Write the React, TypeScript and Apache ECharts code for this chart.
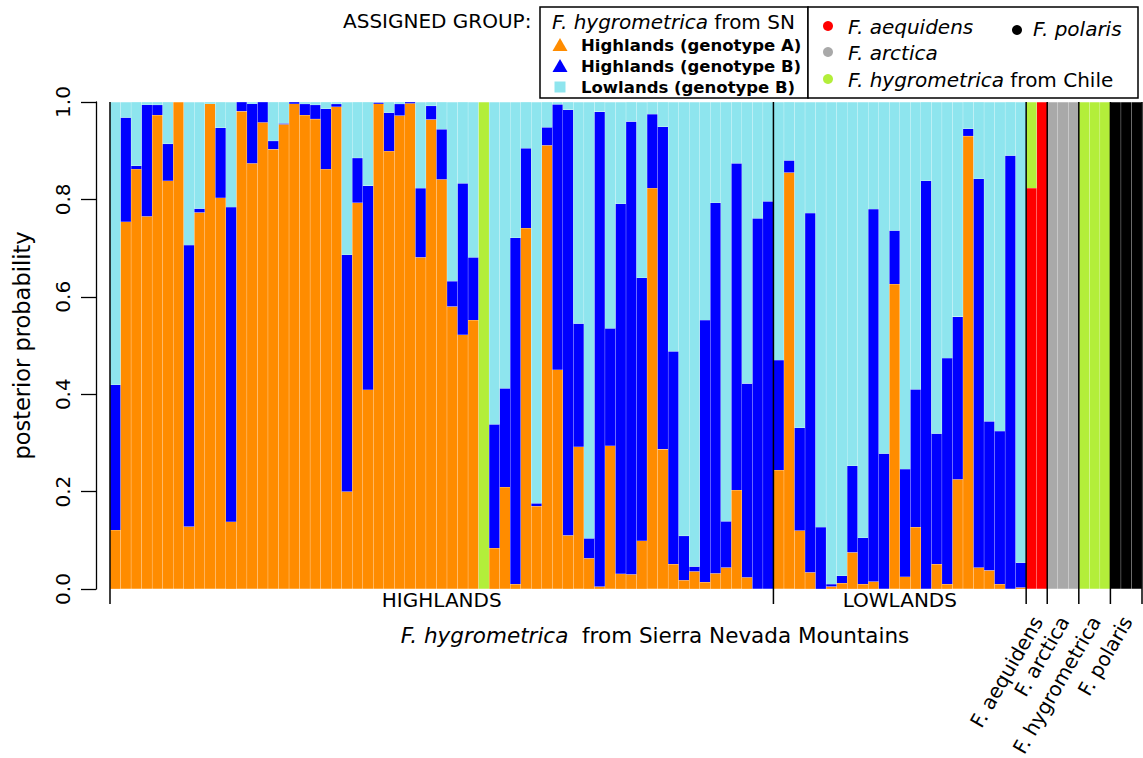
import React, { useEffect, useRef } from "react";
import * as echarts from "echarts";

const FONT = '"DejaVu Sans", "Noto Sans", sans-serif';

// Sierra Nevada (SN) individuals, membership per cluster.
// Highland individuals: genotype A (orange) and highland genotype B (blue) proportions.
const highGenoA = [
  0.121, 0.754, 0.862, 0.765, 0.973, 0.838, 1.0, 0.128, 0.773, 0.996,
  0.803, 0.138, 0.981, 0.874, 0.958, 0.903, 0.954, 0.996, 0.973, 0.965,
  0.862, 0.99, 0.2, 0.793, 0.409, 0.996, 0.899, 0.972, 0.997, 0.681,
  0.964, 0.841, 0.58, 0.522, 0.552, 0, 0.084, 0.209, 0.01, 0.741,
  0.17, 0.911, 0.45, 0.11, 0.292, 0.063, 0.005, 0.294, 0.031, 0.03,
  0.099, 0.823, 0.287, 0.051, 0.018, 0.036, 0.014, 0.032, 0.044, 0.203,
  0.024, 0, 0,
];
const highGenoB = [
  0.298, 0.214, 0.007, 0.229, 0.021, 0.076, 0, 0.578, 0.008, 0,
  0.144, 0.646, 0.019, 0.122, 0.042, 0.017, 0.002, 0.004, 0.023, 0.029,
  0.124, 0.006, 0.486, 0.092, 0.419, 0.003, 0.079, 0.024, 0.003, 0.142,
  0.028, 0.103, 0.052, 0.311, 0.129, 0, 0.254, 0.203, 0.711, 0.164,
  0.006, 0.037, 0.545, 0.874, 0.253, 0.041, 0.975, 0.241, 0.76, 0.93,
  0.54, 0.152, 0.662, 0.437, 0.091, 0.01, 0.538, 0.761, 0.095, 0.671,
  0.398, 0.761, 0.796,
];
// Highland individual assigned to the Chilean F. hygrometrica cluster (by position).
const highChile: Record<number, number> = { 35: 1 };

// Lowland individuals.
const lowGenoA = [
  0.244, 0.855, 0.12, 0.034, 0, 0.005, 0.012, 0.075, 0.01, 0.015,
  0, 0.626, 0.025, 0.127, 0, 0.051, 0.01, 0.225, 0.93, 0.044,
  0.038, 0.01, 0, 0.003,
];
const lowGenoB = [
  0.226, 0.025, 0.211, 0.738, 0.127, 0.005, 0.015, 0.178, 0.095, 0.765,
  0.278, 0.11, 0.221, 0.283, 0.838, 0.268, 0.464, 0.334, 0.015, 0.798,
  0.306, 0.314, 0.89, 0.051,
];

// Reference species.
const aequidensRed = [0.823, 1.0];
const aequidensChile = [0.177, 0];
const arcticaGrey = [1, 1, 1];
const chileGreen = [1, 1, 1];
const polarisBlack = [1, 1, 1];

const yTicks = [0, 0.2, 0.4, 0.6, 0.8, 1.0];

const COLORS = {
  genoA: "#FF8C00",
  genoB: "#0000FF",
  lowB: "#8EE5EE",
  chile: "#B3EE3A",
  aequidens: "#FF0000",
  arctica: "#A9A9A9",
  polaris: "#000000",
};

const groups = [
  { key: "HIGHLANDS", size: highGenoA.length, rotated: false },
  { key: "LOWLANDS", size: lowGenoA.length, rotated: false },
  { key: "F. aequidens", size: aequidensRed.length, rotated: true },
  { key: "F. arctica", size: arcticaGrey.length, rotated: true },
  { key: "F. hygrometrica", size: chileGreen.length, rotated: true },
  { key: "F. polaris", size: polarisBlack.length, rotated: true },
];

function buildSeriesData() {
  const genoA: number[] = [];
  const genoB: number[] = [];
  const lowB: number[] = [];
  const chile: number[] = [];
  const red: number[] = [];
  const grey: number[] = [];
  const black: number[] = [];
  const push = (a: number, b: number, c: number, g: number, r: number, gr: number, bl: number) => {
    genoA.push(a);
    genoB.push(b);
    lowB.push(c);
    chile.push(g);
    red.push(r);
    grey.push(gr);
    black.push(bl);
  };
  highGenoA.forEach((a, i) => {
    const g = highChile[i] || 0;
    const b = highGenoB[i];
    push(a, b, Math.max(0, 1 - a - b - g), g, 0, 0, 0);
  });
  lowGenoA.forEach((a, i) => {
    const b = lowGenoB[i];
    push(a, b, Math.max(0, 1 - a - b), 0, 0, 0, 0);
  });
  aequidensRed.forEach((r, i) => push(0, 0, 0, aequidensChile[i], r, 0, 0));
  arcticaGrey.forEach((v) => push(0, 0, 0, 0, 0, v, 0));
  chileGreen.forEach((v) => push(0, 0, 0, v, 0, 0, 0));
  polarisBlack.forEach((v) => push(0, 0, 0, 0, 0, 0, v));
  const clean = (arr: number[]) => arr.map((v) => (v > 0 ? v : null));
  return {
    genoA: clean(genoA),
    genoB: clean(genoB),
    lowB: clean(lowB),
    chile: clean(chile),
    red: clean(red),
    grey: clean(grey),
    black: clean(black),
  };
}

export default function App() {
  const ref = useRef<HTMLDivElement>(null);

  useEffect(() => {
    document.body.style.margin = "0";
    if (!ref.current) return;
    const chart = echarts.init(ref.current, undefined, { renderer: "svg" });
    const d = buildSeriesData();
    const n = d.genoA.length;
    const categories = Array.from({ length: n }, (_, i) => String(i + 1));

    const barSeries = (name: string, data: (number | null)[], color: string) => ({
      name,
      type: "bar",
      stack: "membership",
      data,
      barCategoryGap: "0%",
      itemStyle: { color, borderColor: "rgba(255,255,255,0.05)", borderWidth: 0.3 },
      emphasis: { disabled: true },
    });

    chart.setOption({
      animation: false,
      grid: { left: 110, right: 1, top: 102, bottom: 169, containLabel: false },
      xAxis: {
        type: "category",
        data: categories,
        axisLine: { show: false },
        axisTick: { show: false },
        axisLabel: { show: false },
        splitLine: { show: false },
      },
      yAxis: {
        type: "value",
        min: 0,
        max: 1,
        interval: 0.2,
        offset: 14,
        axisLine: { show: true, lineStyle: { color: "#000", width: 1.3 } },
        axisTick: { show: true, length: 15, lineStyle: { color: "#000", width: 1.3 } },
        axisLabel: {
          rotate: 90,
          margin: 23,
          fontSize: 20,
          color: "#000",
          fontFamily: FONT,
          formatter: (v: number) => (yTicks.some((t) => Math.abs(t - v) < 1e-9) ? v.toFixed(1) : ""),
        },
        splitLine: { show: false },
        name: "posterior probability",
        nameLocation: "middle",
        nameGap: 63,
        nameTextStyle: { fontSize: 22.5, color: "#000", fontFamily: FONT },
      },
      series: [
        barSeries("Highlands (genotype A)", d.genoA, COLORS.genoA),
        barSeries("Highlands (genotype B)", d.genoB, COLORS.genoB),
        barSeries("Lowlands (genotype B)", d.lowB, COLORS.lowB),
        barSeries("F. aequidens", d.red, COLORS.aequidens),
        barSeries("F. arctica", d.grey, COLORS.arctica),
        barSeries("F. polaris", d.black, COLORS.polaris),
        barSeries("F. hygrometrica from Chile", d.chile, COLORS.chile),
      ],
    });

    // Overlay: group separators, ticks, group labels and the legend boxes.
    const px = (i: number) => chart.convertToPixel({ xAxisIndex: 0 }, i) as number;
    const p0 = px(0);
    const band = px(1) - p0;
    const edge = (k: number) => p0 - band / 2 + k * band;
    const top = chart.convertToPixel({ yAxisIndex: 0 }, 1) as number;
    const bottom = chart.convertToPixel({ yAxisIndex: 0 }, 0) as number;

    const graphics: any[] = [];
    let k = 0;
    const edges = [0];
    groups.forEach((g) => {
      k += g.size;
      edges.push(k);
    });
    edges.forEach((e) => {
      const x = edge(e);
      graphics.push({
        type: "line",
        shape: { x1: x, y1: top, x2: x, y2: bottom + 15 },
        style: { stroke: "#000", lineWidth: 1.5 },
        z: 100,
      });
    });
    groups.forEach((g, gi) => {
      const cx = (edge(edges[gi]) + edge(edges[gi + 1])) / 2;
      if (!g.rotated) {
        graphics.push({
          type: "text",
          x: cx,
          y: bottom + 11,
          style: {
            text: g.key,
            font: `20px ${FONT}`,
            fill: "#000",
            textAlign: "center",
            textVerticalAlign: "middle",
          },
          z: 100,
        });
      } else {
        graphics.push({
          type: "text",
          x: cx + 1,
          y: bottom + 29,
          rotation: Math.PI / 3,
          style: {
            text: g.key,
            font: `20px ${FONT}`,
            fill: "#000",
            textAlign: "right",
            textVerticalAlign: "middle",
          },
          z: 100,
        });
      }
    });
    graphics.push({
      type: "text",
      x: 655,
      y: bottom + 46,
      style: {
        text: "{i|F. hygrometrica}  from Sierra Nevada Mountains",
        font: `21.5px ${FONT}`,
        fill: "#000",
        textAlign: "center",
        textVerticalAlign: "middle",
        rich: { i: { fontStyle: "italic", fontSize: 21.5, fontFamily: FONT, fill: "#000" } },
      },
      z: 100,
    });

    // Legend
    const txt = (x: number, y: number, text: string, font: string, rich?: any) => ({
      type: "text",
      x,
      y,
      style: { text, font, fill: "#000", textAlign: "left", textVerticalAlign: "middle", rich },
      z: 100,
    });
    const italicRich = { i: { fontStyle: "italic", fontSize: 20, fontFamily: FONT, fill: "#000" } };
    graphics.push(txt(343, 21, "ASSIGNED GROUP:", `20px ${FONT}`));
    graphics.push({
      type: "rect",
      shape: { x: 540, y: 7, width: 268, height: 91 },
      style: { fill: "#fff", stroke: "#000", lineWidth: 1.5 },
      z: 99,
    });
    graphics.push({
      type: "rect",
      shape: { x: 808, y: 7, width: 330, height: 91 },
      style: { fill: "#fff", stroke: "#000", lineWidth: 1.5 },
      z: 99,
    });
    graphics.push(txt(552, 22, "{i|F. hygrometrica} from SN", `20px ${FONT}`, italicRich));
    const tri = (cx: number, cy: number, color: string) => ({
      type: "polygon",
      shape: { points: [[cx - 7.5, cy + 6], [cx + 7.5, cy + 6], [cx, cy - 7]] },
      style: { fill: color },
      z: 100,
    });
    graphics.push(tri(560, 45, COLORS.genoA));
    graphics.push(tri(560, 66, COLORS.genoB));
    graphics.push({
      type: "rect",
      shape: { x: 554.5, y: 81.5, width: 11, height: 11 },
      style: { fill: COLORS.lowB },
      z: 100,
    });
    graphics.push(txt(581, 45, "Highlands (genotype A)", `bold 16.5px ${FONT}`));
    graphics.push(txt(581, 66, "Highlands (genotype B)", `bold 16.5px ${FONT}`));
    graphics.push(txt(581, 87, "Lowlands (genotype B)", `bold 16.5px ${FONT}`));

    const dot = (cx: number, cy: number, color: string) => ({
      type: "circle",
      shape: { cx, cy, r: 5 },
      style: { fill: color },
      z: 100,
    });
    graphics.push(dot(828, 26, COLORS.aequidens));
    graphics.push(dot(828, 52, COLORS.arctica));
    graphics.push(dot(828, 79, COLORS.chile));
    graphics.push(dot(1017, 30, COLORS.polaris));
    graphics.push(txt(848, 27, "F. aequidens", `italic 20px ${FONT}`));
    graphics.push(txt(1033, 29, "F. polaris", `italic 20px ${FONT}`));
    graphics.push(txt(848, 53, "F. arctica", `italic 20px ${FONT}`));
    graphics.push(txt(848, 80, "{i|F. hygrometrica} from Chile", `20px ${FONT}`, italicRich));

    chart.setOption({ graphic: graphics });

    return () => chart.dispose();
  }, []);

  return <div ref={ref} style={{ width: 1143, height: 758 }} />;
}
